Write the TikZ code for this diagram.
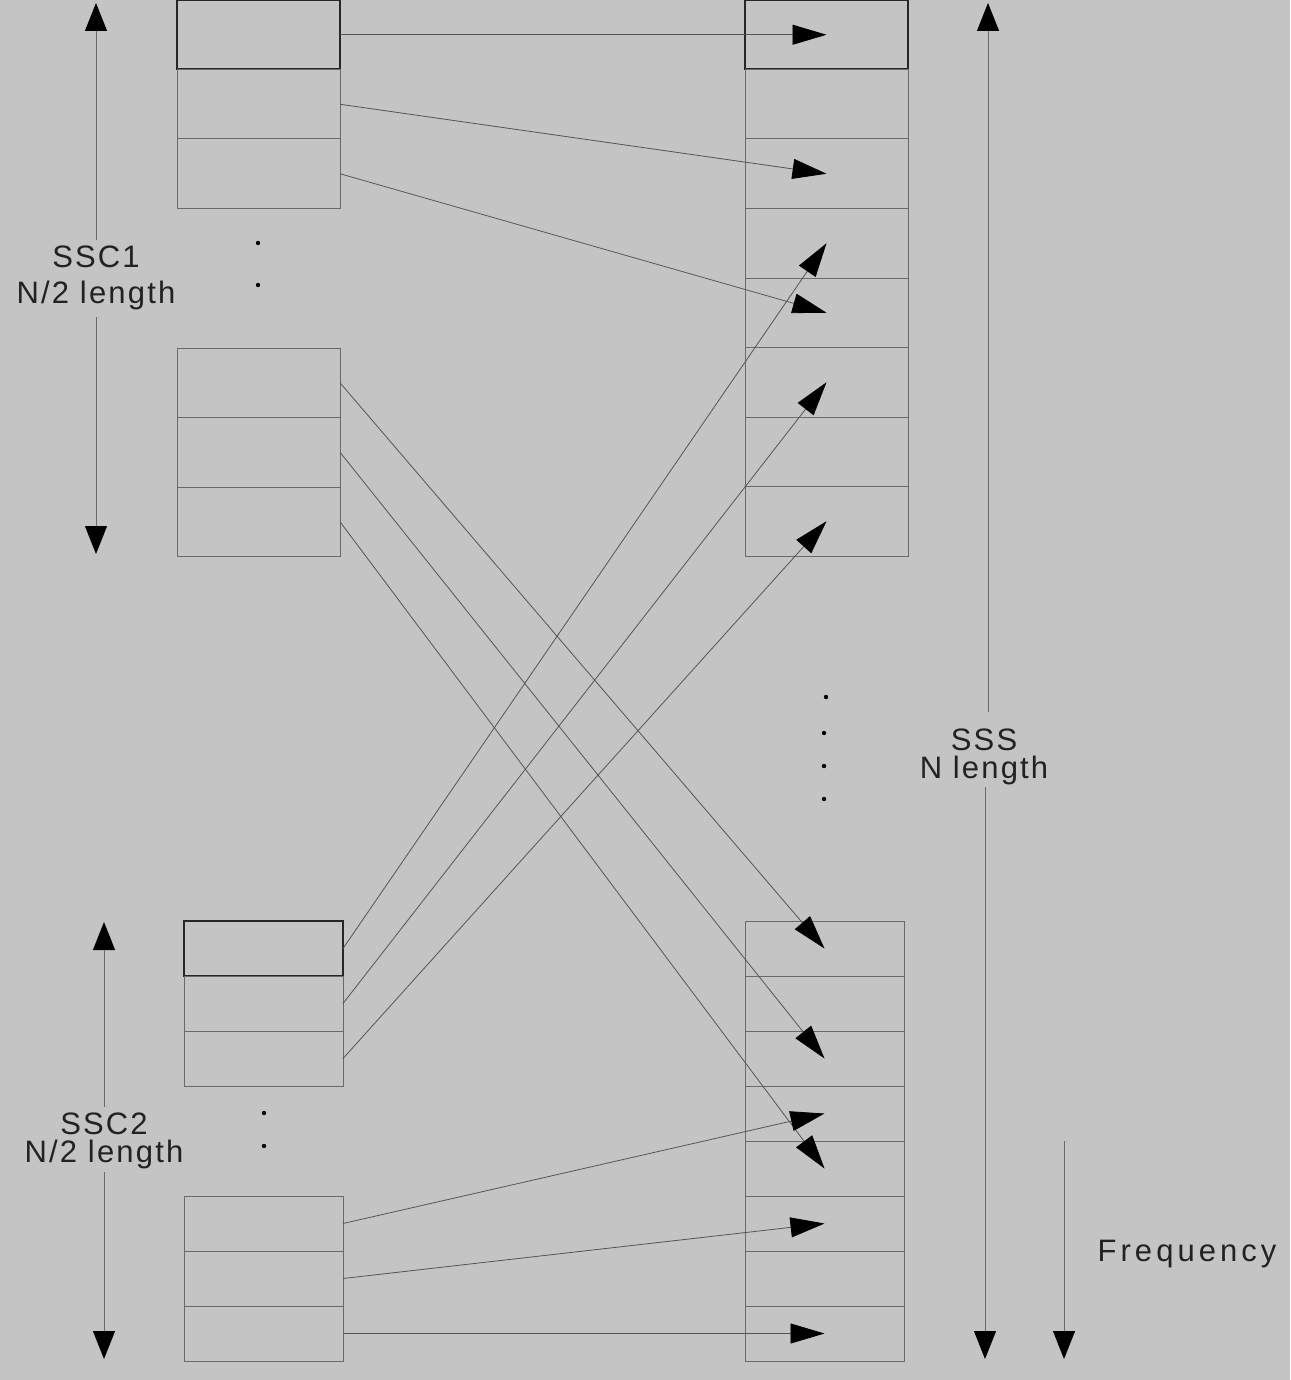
\documentclass[tikz,border=0pt]{standalone}
\usepackage{fontspec}
\setmainfont{Liberation Sans}
\newfontfamily\lblfont[LetterSpace=7]{Liberation Sans}
\newfontfamily\freqfont[LetterSpace=13]{Liberation Sans}
\usetikzlibrary{arrows.meta}
\definecolor{bg}{HTML}{C4C4C4}
\definecolor{thinline}{HTML}{6A6A6A}
\definecolor{connline}{HTML}{555555}
\definecolor{txt}{HTML}{222222}
\tikzset{
  cellA/.style={draw=thinline, line width=0.5pt, minimum width=81.5pt, minimum height=34.75pt, inner sep=0pt, outer sep=0pt},
  cellB/.style={draw=thinline, line width=0.5pt, minimum width=79.5pt, minimum height=27.5pt, inner sep=0pt, outer sep=0pt},
  firstcell/.style={draw=black!85, line width=1pt},
  conn/.style={draw=connline, line width=0.4pt, -{Triangle[length=17pt,width=10pt,black]}},
  dimline/.style={draw=thinline, line width=0.5pt, -{Triangle[length=14pt,width=11pt,black]}},
  lbl/.style={font=\lblfont\fontsize{15.5pt}{15pt}\selectfont, text=txt, align=center, inner sep=0pt},
  freqlbl/.style={font=\freqfont\fontsize{15.5pt}{15pt}\selectfont, text=txt, inner sep=0pt},
  dotmark/.style={fill=black, circle, inner sep=0pt, minimum size=2.2pt}
}
\begin{document}
\begin{tikzpicture}[x=0.5pt,y=-0.5pt]
\fill[bg] (0,0) rectangle (1290,1380);
\useasboundingbox (0,0) rectangle (1290,1380);
% SSC1 cells
\node[cellA, firstcell] (a1) at (258.5,34.75) {};
\node[cellA] (a2) at (258.5,104.25) {};
\node[cellA] (a3) at (258.5,173.75) {};
\node[cellA] (b1) at (258.5,382.75) {};
\node[cellA] (b2) at (258.5,452.25) {};
\node[cellA] (b3) at (258.5,521.75) {};
% SSS upper cells
\node[cellA, firstcell] (s1) at (826.5,34.75) {};
\node[cellA] (s2) at (826.5,104.25) {};
\node[cellA] (s3) at (826.5,173.75) {};
\node[cellA] (s4) at (826.5,243.25) {};
\node[cellA] (s5) at (826.5,312.75) {};
\node[cellA] (s6) at (826.5,382.25) {};
\node[cellA] (s7) at (826.5,451.75) {};
\node[cellA] (s8) at (826.5,521.25) {};
% SSS lower cells
\node[cellB] (t1) at (824.5,948.5) {};
\node[cellB] (t2) at (824.5,1003.5) {};
\node[cellB] (t3) at (824.5,1058.5) {};
\node[cellB] (t4) at (824.5,1113.5) {};
\node[cellB] (t5) at (824.5,1168.5) {};
\node[cellB] (t6) at (824.5,1223.5) {};
\node[cellB] (t7) at (824.5,1278.5) {};
\node[cellB] (t8) at (824.5,1333.5) {};
% SSC2 cells
\node[cellB, firstcell] (c1) at (263.5,948.5) {};
\node[cellB] (c2) at (263.5,1003.5) {};
\node[cellB] (c3) at (263.5,1058.5) {};
\node[cellB] (d1) at (263.5,1223.5) {};
\node[cellB] (d2) at (263.5,1278.5) {};
\node[cellB] (d3) at (263.5,1333.5) {};
% dots
\node[dotmark] (p1) at (258,243) {};
\node[dotmark] (p2) at (258,285) {};
\node[dotmark] (p3) at (264,1113) {};
\node[dotmark] (p4) at (264,1146) {};
\node[dotmark] (q1) at (826,697) {};
\node[dotmark] (q2) at (824,733) {};
\node[dotmark] (q3) at (824,766) {};
\node[dotmark] (q4) at (824,799) {};
% connectors
\draw[conn] (a1.east) -- (s1.center);
\draw[conn] (a2.east) -- (s3.center);
\draw[conn] (a3.east) -- (s5.center);
\draw[conn] (b1.east) -- (t1.center);
\draw[conn] (b2.east) -- (t3.center);
\draw[conn] (b3.east) -- (t5.center);
\draw[conn] (c1.east) -- (s4.center);
\draw[conn] (c2.east) -- (s6.center);
\draw[conn] (c3.east) -- (s8.center);
\draw[conn] (d1.east) -- (t4.center);
\draw[conn] (d2.east) -- (t6.center);
\draw[conn] (d3.east) -- (t8.center);
% dimension labels
\node[lbl] (l1) at (96,278) {SSC1\\[3pt]N/2 length};
\coordinate (l1t) at (96,3);
\coordinate (l1b) at (96,554);
\draw[dimline] (96,240) -- (l1t);
\draw[dimline] (96,317) -- (l1b);
\node[lbl] (l2) at (104,1141) {SSC2\\[-1pt]N/2 length};
\coordinate (l2t) at (104,922);
\coordinate (l2b) at (104,1359);
\draw[dimline] (104,1107) -- (l2t);
\draw[dimline] (104,1172) -- (l2b);
\node[lbl] (l3) at (984,757) {SSS\\[-1pt]N length};
\coordinate (l3t) at (988,3);
\coordinate (l3b) at (985,1359);
\draw[dimline] (988,712) -- (l3t);
\draw[dimline] (985,787) -- (l3b);
\node[freqlbl] (fq) at (1187,1254) {Frequency};
\coordinate (fqa) at (1064,1141);
\coordinate (fqb) at (1064,1359);
\draw[dimline] (fqa) -- (fqb);
\end{tikzpicture}
\end{document}
